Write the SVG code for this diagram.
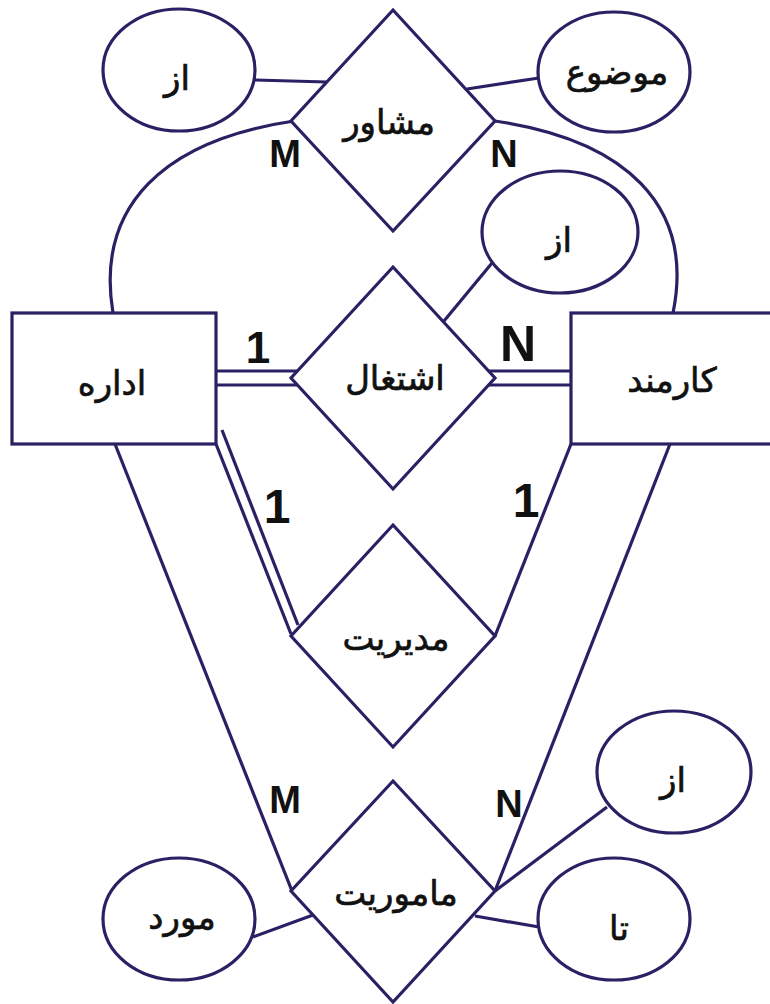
<svg xmlns="http://www.w3.org/2000/svg" width="770" height="1004" viewBox="0 0 770 1004">
<style>
.s{fill:#fff;stroke:#2d1f63;stroke-width:3.2}
.c{fill:none;stroke:#2d1f63;stroke-width:3.2}
.t{font-family:"DejaVu Sans",sans-serif;font-size:34px;fill:#111;stroke:#111;stroke-width:0.7;text-anchor:middle;dominant-baseline:central}
.l{font-family:"Liberation Sans",Arial,sans-serif;font-weight:bold;fill:#111;text-anchor:middle}
</style>
<rect width="770" height="1004" fill="#fff"/>
<g id="connectors">
<line class="c" x1="255" y1="80" x2="327" y2="82"/>
<line class="c" x1="467" y1="89" x2="539" y2="78"/>
<path class="c" d="M113 313 C95 205 165 140 294 121"/>
<path class="c" d="M495 121 C625 140 695 205 673 313"/>
<line class="c" x1="444" y1="321" x2="492" y2="263"/>
<line class="c" x1="216" y1="371" x2="298" y2="371"/>
<line class="c" x1="216" y1="385" x2="298" y2="385"/>
<line class="c" x1="489" y1="371" x2="571" y2="371"/>
<line class="c" x1="489" y1="385" x2="571" y2="385"/>
<line class="c" x1="222" y1="430" x2="298" y2="625"/>
<line class="c" x1="216" y1="444" x2="291" y2="634"/>
<line class="c" x1="571" y1="444" x2="495" y2="636"/>
<line class="c" x1="115" y1="444" x2="292" y2="891"/>
<line class="c" x1="670" y1="444" x2="495" y2="891"/>
<line class="c" x1="607" y1="807" x2="495" y2="891"/>
<line class="c" x1="475" y1="916" x2="539" y2="927"/>
<line class="c" x1="253" y1="937" x2="313" y2="915"/>
</g>
<g id="e-edare"><rect class="s" x="12" y="313" width="204" height="131"/><text class="t" x="112" y="383">اداره</text></g>
<g id="e-karmand"><rect class="s" x="571" y="313" width="210" height="131"/><text class="t" x="672" y="380">کارمند</text></g>
<g id="r-moshaver"><polygon class="s" points="393,10 495,121 393,231 291,121"/><text class="t" x="389" y="122">مشاور</text></g>
<g id="r-eshteghal"><polygon class="s" points="393,267 495,378 393,489 291,378"/><text class="t" x="395" y="378">اشتغال</text></g>
<g id="r-modiriat"><polygon class="s" points="393,525 495,636 393,747 291,636"/><text class="t" x="396" y="638">مدیریت</text></g>
<g id="r-mamooriat"><polygon class="s" points="393,781 495,891 393,1002 291,891"/><text class="t" x="396" y="893">ماموریت</text></g>
<g id="a-az1"><ellipse class="s" cx="179" cy="70" rx="76" ry="61"/><text class="t" x="177" y="78">از</text></g>
<g id="a-mozoo"><ellipse class="s" cx="614" cy="72" rx="76" ry="60"/><text class="t" x="617" y="72">موضوع</text></g>
<g id="a-az2"><ellipse class="s" cx="560" cy="232" rx="78" ry="61"/><text class="t" x="559" y="240">از</text></g>
<g id="a-az3"><ellipse class="s" cx="674" cy="772" rx="77" ry="61"/><text class="t" x="673" y="780">از</text></g>
<g id="a-ta"><ellipse class="s" cx="614" cy="919" rx="76" ry="61"/><text class="t" x="619" y="928">تا</text></g>
<g id="a-mored"><ellipse class="s" cx="179" cy="919" rx="76" ry="61"/><text class="t" x="182" y="917">مورد</text></g>
<g id="labels">
<text class="l" x="285" y="167" font-size="38">M</text>
<text class="l" x="504" y="167" font-size="38">N</text>
<text class="l" x="258" y="363" font-size="44">1</text>
<text class="l" x="518" y="361" font-size="50" font-weight="normal">N</text>
<text class="l" x="277" y="523" font-size="48">1</text>
<text class="l" x="526" y="517" font-size="48">1</text>
<text class="l" x="285" y="813" font-size="38">M</text>
<text class="l" x="509" y="817" font-size="38">N</text>
</g>
</svg>
